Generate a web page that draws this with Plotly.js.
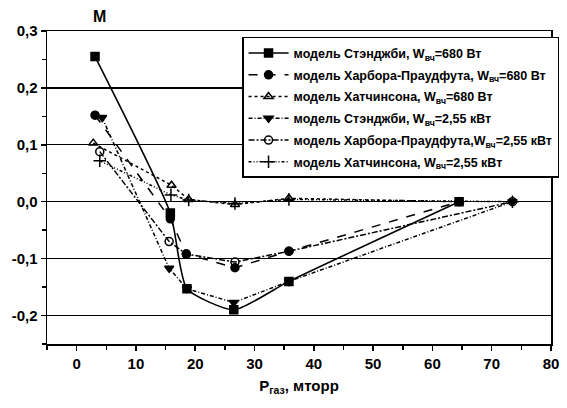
<!DOCTYPE html>
<html>
<head>
<meta charset="utf-8">
<script src="https://cdn.plot.ly/plotly-3.0.1.min.js"></script>
<style>html,body{margin:0;padding:0;background:#fff;}#chart{width:567px;height:408px;}</style>
</head>
<body>
<div id="chart"></div>
<script>
// ---- data ----
const seriesNames = [
  "модель Стэнджби, W<sub>вч</sub>=680 Вт",
  "модель Харбора-Праудфута, W<sub>вч</sub>=680 Вт",
  "модель Хатчинсона, W<sub>вч</sub>=680 Вт",
  "модель Стэнджби, W<sub>вч</sub>=2,55 кВт",
  "модель Харбора-Праудфута,W<sub>вч</sub>=2,55 кВт",
  "модель Хатчинсона, W<sub>вч</sub>=2,55 кВт"
];
const stangby680X = [3.1, 15.8, 18.6, 26.5, 35.8, 64.5];
const stangby680Y = [0.255, -0.02, -0.153, -0.19, -0.14, 0];
const harbor680X = [3.1, 15.8, 18.5, 26.7, 35.8, 64.5];
const harbor680Y = [0.152, -0.03, -0.092, -0.116, -0.087, 0];
const hutch680X = [2.8, 16.0, 18.9, 26.7, 35.8, 64.5];
const hutch680Y = [0.103, 0.029, 0.004, -0.005, 0.006, 0];
const stangby255X = [4.3, 15.6, 18.6, 26.5, 35.8, 73.5];
const stangby255Y = [0.148, -0.117, -0.153, -0.177, -0.14, 0];
const harbor255X = [3.9, 15.6, 18.5, 26.7, 35.8, 73.5];
const harbor255Y = [0.088, -0.07, -0.092, -0.106, -0.087, 0];
const hutch255X = [3.9, 15.9, 18.9, 26.7, 35.8, 73.5];
const hutch255Y = [0.072, 0.012, 0.003, -0.003, 0.004, 0];

const xTickVals = [0, 10, 20, 30, 40, 50, 60, 70, 80];
const xTickText = ["0", "10", "20", "30", "40", "50", "60", "70", "80"];
const yTickVals = [0.3, 0.2, 0.1, 0, -0.1, -0.2];
const yTickText = ["0,3", "0,2", "0,1", "0,0", "-0,1", "-0,2"];
const xTitle = "P<sub>газ</sub>, мторр";
const yTitle = "M";

// ---- styling ----
const black = "#000";
function tr(x, y, name, dash, symbol, group, shape, width) {
  return {
    x: x, y: y, name: name, type: "scatter", mode: "lines+markers",
    legendgroup: group,
    line: {color: black, width: width || 1.5, dash: dash, shape: shape || "linear", smoothing: 0.55},
    marker: {symbol: symbol, size: 8, color: black, line: {color: black, width: 1.5}}
  };
}
const data = [
  tr(stangby680X, stangby680Y, seriesNames[0], "solid", "square", "g1", "spline", 1.6),
  tr(harbor680X, harbor680Y, seriesNames[1], "dash", "circle", "g2"),
  tr(hutch680X, hutch680Y, seriesNames[2], "dot", "triangle-up-open", "g3"),
  tr(stangby255X, stangby255Y, seriesNames[3], "4px,2px,1px,2px", "triangle-down", "g4"),
  tr(harbor255X, harbor255Y, seriesNames[4], "6px,2px,2px,2px", "circle-open", "g5"),
  tr(hutch255X, hutch255Y, seriesNames[5], "3px,2px,1px,2px,1px,2px", "cross-thin-open", "g6")
];
data[5].marker.size = 9;
data[5].marker.line.width = 1.5;

const fontFam = "Liberation Sans, Arial, sans-serif";
const layout = {
  width: 567, height: 408,
  margin: {l: 47, r: 8, t: 31, b: 64},
  paper_bgcolor: "#fff", plot_bgcolor: "#fff",
  font: {family: fontFam, color: black},
  showlegend: true,
  legend: {
    x: 0.387, y: 0.981, xanchor: "left", yanchor: "top",
    bgcolor: "#fff", bordercolor: black, borderwidth: 1.5,
    font: {family: fontFam, size: 12.5, color: black, weight: "bold"},
    itemwidth: 40, tracegroupgap: 2.5
  },
  xaxis: {
    range: [-5, 80], tickvals: xTickVals, ticktext: xTickText,
    automargin: false, ticklabeloverflow: "allow",
    showgrid: false, zeroline: false,
    showline: true, linecolor: black, linewidth: 1.5, mirror: true,
    ticks: "outside", ticklen: 5, tickwidth: 1.5, tickcolor: black,
    minor: {dtick: 5, tick0: 0, ticks: "outside", ticklen: 4, tickwidth: 1.5, tickcolor: black, showgrid: false},
    tickfont: {family: fontFam, size: 15, color: black, weight: "bold"},
    title: {text: xTitle, font: {family: fontFam, size: 15, color: black, weight: "bold"}, standoff: 10}
  },
  yaxis: {
    range: [-0.25, 0.3], tickvals: yTickVals, ticktext: yTickText,
    automargin: false,
    showgrid: true, gridcolor: black, gridwidth: 1.2,
    zeroline: false,
    showline: true, linecolor: black, linewidth: 1.5, mirror: true,
    ticks: "outside", ticklen: 5, tickwidth: 1.5, tickcolor: black,
    minor: {dtick: 0.05, tick0: 0, ticks: "outside", ticklen: 4, tickwidth: 1.5, tickcolor: black, showgrid: false},
    tickfont: {family: fontFam, size: 15, color: black, weight: "bold"}
  },
  annotations: [{
    text: yTitle, xref: "paper", yref: "paper", x: 0.104, y: 1.045,
    xanchor: "center", yanchor: "middle", showarrow: false,
    font: {family: fontFam, size: 16, color: black, weight: "bold"}
  }]
};
Plotly.newPlot("chart", data, layout, {displayModeBar: false, staticPlot: true});
</script>
</body>
</html>
